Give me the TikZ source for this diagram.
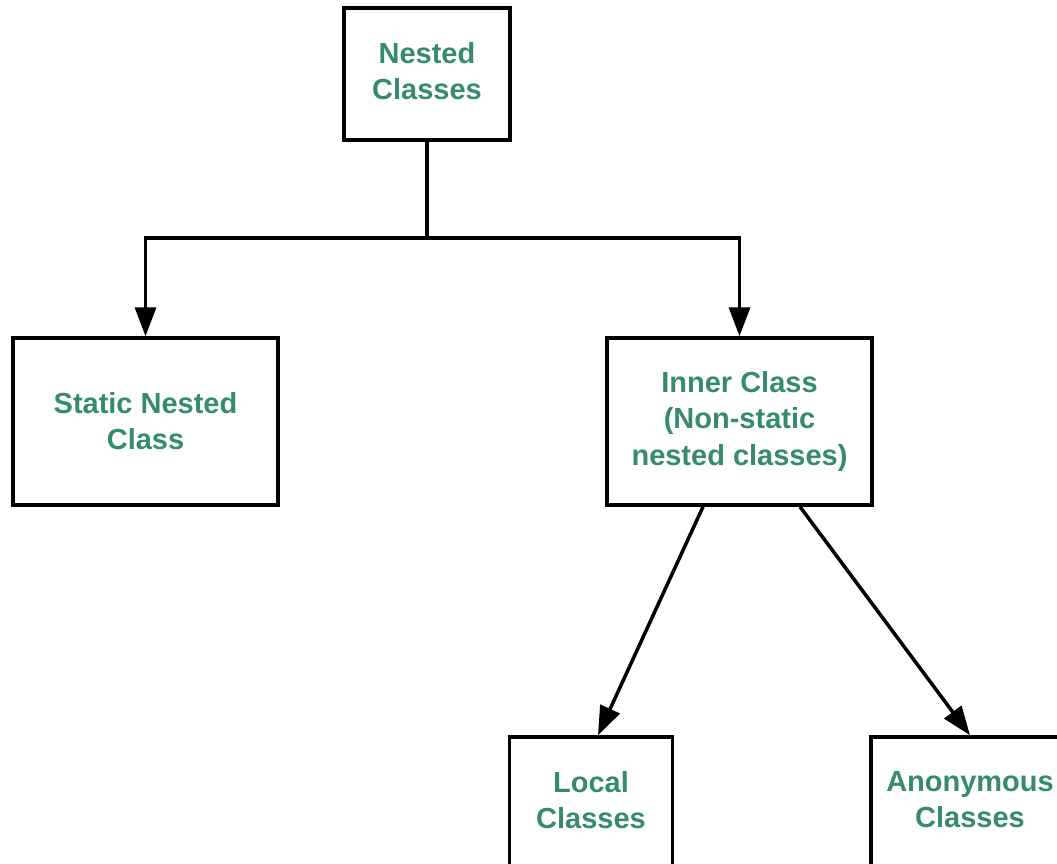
\documentclass[tikz,border=0pt]{standalone}
\usepackage{fontspec}
\setmainfont{Liberation Sans}
\usetikzlibrary{arrows.meta}
\definecolor{classgreen}{RGB}{54,138,114}
\tikzset{
  classbox/.style={draw, line width=2pt, align=center, text=classgreen,
    font=\fontsize{16.5}{20.5}\selectfont\bfseries, inner sep=0pt},
  arr/.style={line width=2pt, -{Triangle[length=0.58cm,width=0.42cm]}}
}
\begin{document}
\begin{tikzpicture}[x=0.02cm, y=-0.02cm]
\useasboundingbox (0,0) rectangle (1057,864);
\clip (0,0) rectangle (1057,864);
\node[classbox, minimum width=3.32cm, minimum height=2.64cm, text depth=0.12cm] (nested) at (427,74) {Nested\\Classes};
\node[classbox, minimum width=5.3cm, minimum height=3.34cm] (static) at (145.5,421.5) {Static Nested\\Class};
\node[classbox, minimum width=5.3cm, minimum height=3.34cm] (inner) at (739.5,421.5) {Inner Class\\(Non-static\\nested classes)};
\node[classbox, minimum width=3.26cm, minimum height=2.64cm, text depth=0.14cm] (local) at (591,803) {Local\\Classes};
\node[classbox, minimum width=3.96cm, minimum height=2.64cm, text depth=0.14cm] (anon) at (970,803) {Anonymous\\Classes};
\coordinate (split) at (427,238);
\draw[line width=2pt] (nested.south) -- (split);
\draw[arr] (split) -| (static.north);
\draw[arr] (split) -| (inner.north);
\draw[arr] ([xshift=-0.73cm]inner.south) -- ([xshift=0.14cm]local.north);
\draw[arr] ([xshift=1.21cm]inner.south) -- (anon.north);
\end{tikzpicture}
\end{document}
